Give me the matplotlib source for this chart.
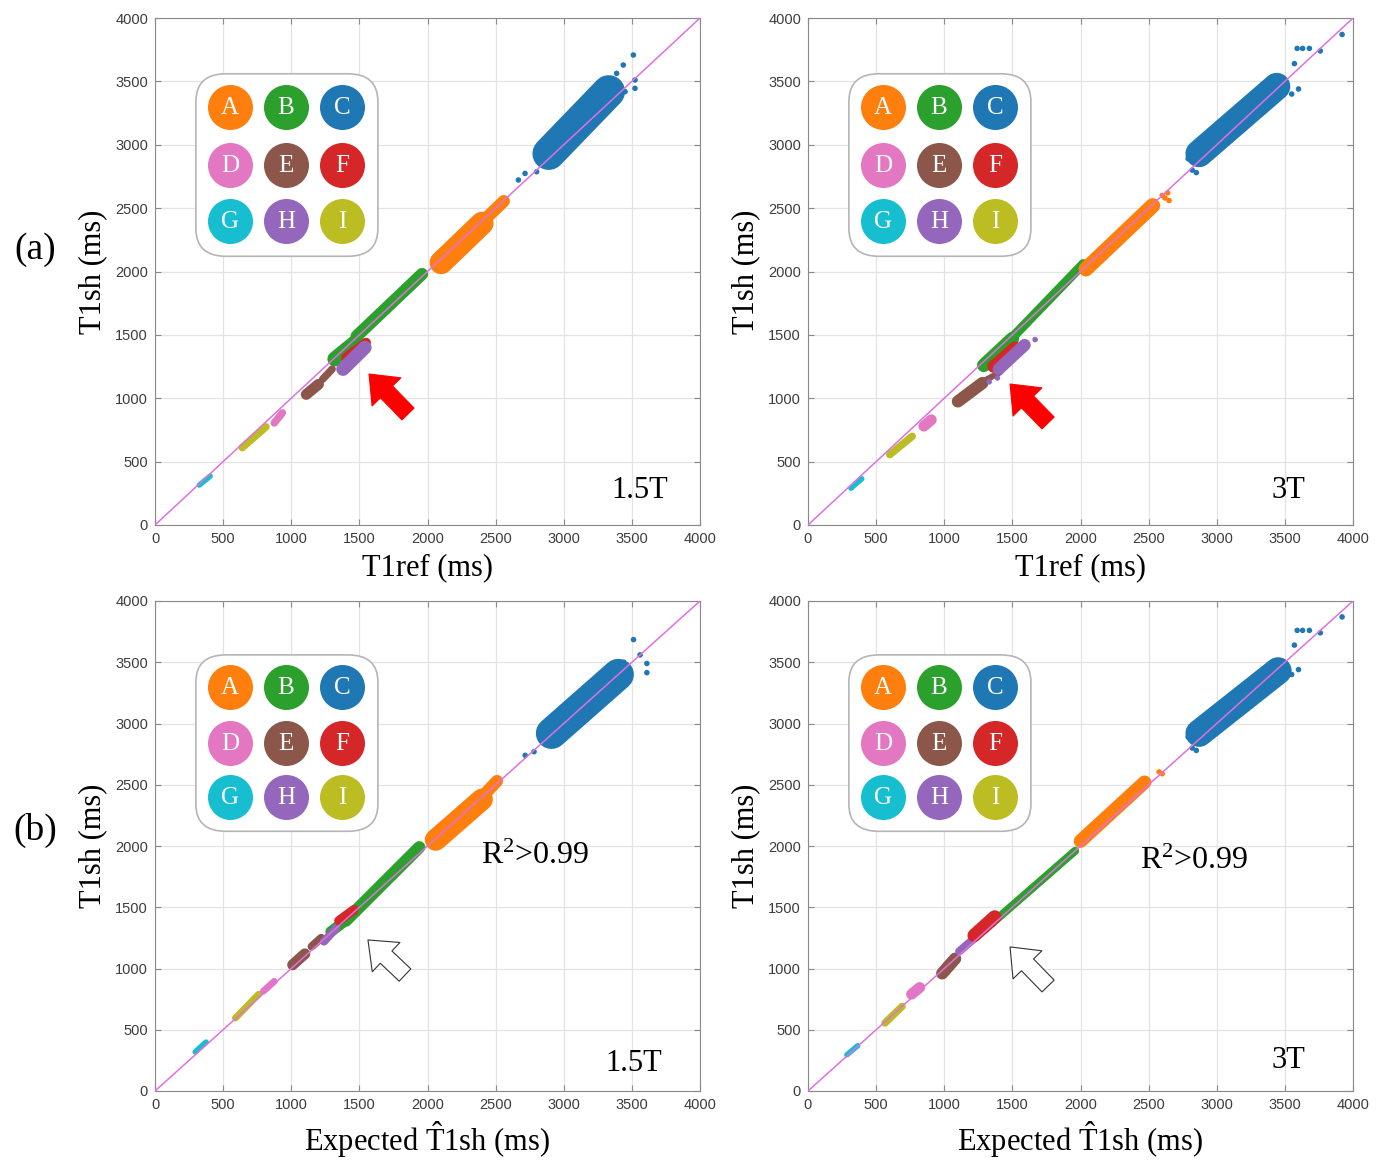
import matplotlib
matplotlib.use('Agg')
import matplotlib.pyplot as plt
from matplotlib.patches import FancyBboxPatch

plt.rcParams['font.family'] = 'Liberation Serif'
plt.rcParams['mathtext.fontset'] = 'custom'
plt.rcParams['mathtext.rm'] = 'Liberation Serif'
plt.rcParams['mathtext.it'] = 'Liberation Serif:italic'

## phantom vials ##
LETTERS = ['A', 'B', 'C', 'D', 'E', 'F', 'G', 'H', 'I']
COLORS = ['#ff7f0e', '#2ca02c', '#1f77b4', '#e377c2', '#8c564b',
          '#d62728', '#17becf', '#9467bd', '#bcbd22']
TICKS = [0, 500, 1000, 1500, 2000, 2500, 3000, 3500, 4000]
LIMS = [0, 4000]

## cluster spines: start -> end, spread across (ms) ##
# (a) 1.5T, T1ref vs T1sh
a15_cls = ['B', 'B', 'A', 'A', 'C', 'G', 'I', 'D', 'E', 'E', 'F', 'H']
a15_x0 = [1320, 1480, 2100, 2420, 2890, 325, 640, 875, 1110, 1230, 1400, 1380]
a15_y0 = [1310, 1490, 2070, 2410, 2930, 315, 610, 805, 1030, 1150, 1320, 1230]
a15_x1 = [1480, 1960, 2400, 2560, 3330, 405, 815, 935, 1200, 1300, 1550, 1540]
a15_y1 = [1450, 1980, 2380, 2555, 3420, 385, 775, 885, 1110, 1230, 1440, 1400]
a15_sp = [110, 90, 170, 90, 240, 40, 55, 55, 80, 55, 70, 100]
a15_out_cls = ['C'] * 11
a15_out_x = [2667, 2716, 2801, 3511, 3437, 3388, 3523, 3523, 3450, 3339, 3400]
a15_out_y = [2722, 2774, 2787, 3708, 3629, 3563, 3511, 3445, 3419, 3287, 3485]

# (a) 3T, T1ref vs T1sh
a3_cls = ['B', 'B', 'A', 'C', 'G', 'I', 'D', 'E', 'E', 'F', 'H']
a3_x0 = [1290, 1500, 2040, 2870, 315, 600, 850, 1100, 1280, 1360, 1400]
a3_y0 = [1260, 1480, 2020, 2930, 290, 555, 780, 975, 1130, 1250, 1230]
a3_x1 = [1500, 2020, 2530, 3440, 395, 765, 905, 1280, 1410, 1520, 1590]
a3_y1 = [1470, 2060, 2520, 3460, 365, 700, 830, 1120, 1205, 1400, 1420]
a3_sp = [100, 70, 110, 200, 40, 55, 80, 90, 45, 90, 90]
a3_out_cls = ['C'] * 11 + ['A'] * 4 + ['H'] * 3
a3_out_x = [2790, 2850, 2820, 3570, 3590, 3630, 3680, 3760, 3920, 3600, 3550,
            2620, 2640, 2650, 2600, 1667, 1330, 1390]
a3_out_y = [2890, 2780, 2800, 3640, 3760, 3760, 3760, 3740, 3870, 3440, 3400,
            2580, 2620, 2560, 2600, 1463, 1130, 1160]

# (b) 1.5T, expected T1sh vs T1sh
b15_cls = ['B', 'B', 'A', 'A', 'C', 'G', 'I', 'D', 'E', 'E', 'H', 'F']
b15_x0 = [1290, 1400, 2060, 2400, 2910, 295, 590, 795, 1010, 1150, 1240, 1350]
b15_y0 = [1300, 1390, 2050, 2400, 2920, 320, 595, 815, 1030, 1180, 1220, 1390]
b15_x1 = [1420, 1940, 2400, 2510, 3400, 375, 760, 875, 1100, 1220, 1330, 1460]
b15_y1 = [1410, 1990, 2380, 2530, 3400, 400, 790, 895, 1120, 1250, 1330, 1480]
b15_sp = [80, 90, 160, 90, 230, 40, 50, 50, 80, 60, 60, 70]
b15_out_cls = ['C'] * 9
b15_out_x = [2717, 2782, 3512, 3610, 3610, 3560, 3440, 3470, 3380]
b15_out_y = [2740, 2770, 3685, 3490, 3415, 3560, 3500, 3380, 3290]

# (b) 3T, expected T1sh vs T1sh
b3_cls = ['B', 'A', 'C', 'G', 'I', 'D', 'E', 'H', 'F']
b3_x0 = [1300, 2000, 2870, 285, 565, 760, 985, 1110, 1220]
b3_y0 = [1320, 2040, 2920, 295, 555, 790, 960, 1140, 1270]
b3_x1 = [1960, 2470, 3450, 365, 690, 820, 1080, 1220, 1370]
b3_y1 = [1960, 2520, 3430, 370, 690, 845, 1080, 1245, 1420]
b3_sp = [60, 100, 200, 40, 55, 80, 90, 60, 100]
b3_out_cls = ['C'] * 11 + ['A'] * 2
b3_out_x = [2790, 2850, 2820, 3570, 3590, 3630, 3680, 3760, 3920, 3600, 3550,
            2577, 2600]
b3_out_y = [2890, 2780, 2800, 3640, 3760, 3760, 3760, 3740, 3870, 3440, 3400,
            2605, 2590]

## arrows (tip, tail) in data units ##
arrow_tip = [(1571, 1191), (1483, 1112), (1563, 1233), (1483, 1176)]
arrow_tail = [(1857, 876), (1762, 805), (1835, 947), (1762, 857)]

W, H = 1387, 1161
fig = plt.figure(figsize=(W / 100, H / 100), dpi=100)
ax_w, ax_h = 545 / W, 507 / H
positions = [
    [155 / W, 1 - 525 / H, ax_w, ax_h],
    [808 / W, 1 - 525 / H, ax_w, ax_h],
    [155 / W, 1 - 1091 / H, ax_w, 490 / H],
    [808 / W, 1 - 1091 / H, ax_w, 490 / H],
]
panels = [
    (a15_cls, a15_x0, a15_y0, a15_x1, a15_y1, a15_sp, a15_out_cls, a15_out_x, a15_out_y),
    (a3_cls, a3_x0, a3_y0, a3_x1, a3_y1, a3_sp, a3_out_cls, a3_out_x, a3_out_y),
    (b15_cls, b15_x0, b15_y0, b15_x1, b15_y1, b15_sp, b15_out_cls, b15_out_x, b15_out_y),
    (b3_cls, b3_x0, b3_y0, b3_x1, b3_y1, b3_sp, b3_out_cls, b3_out_x, b3_out_y),
]
field_txt = ['1.5T', '3T', '1.5T', '3T']
field_pos = [(0.89, 0.069), (0.881, 0.069), (0.879, 0.057), (0.881, 0.063)]
r2_pos = [None, None, (0.698, 0.478), (0.708, 0.469)]
xlabels = ['T1ref (ms)', 'T1ref (ms)',
           r'Expected $\hat{\mathrm{T}}$1sh (ms)', r'Expected $\hat{\mathrm{T}}$1sh (ms)']
col = dict(zip(LETTERS, COLORS))
pt_per_ms = 545 / 4000 * 72 / 100

for i, (pos, p) in enumerate(zip(positions, panels)):
    cls, x0, y0, x1, y1, sp, ocls, ox, oy = p
    ax = fig.add_axes(pos)
    ax.set_xlim(LIMS)
    ax.set_ylim(LIMS)
    ax.set_xticks(TICKS)
    ax.set_yticks(TICKS)
    ax.grid(True, color='#e3e3e3', lw=0.9)
    ax.set_axisbelow(True)
    for s in ax.spines.values():
        s.set_color('#8a8a8a')
    ax.tick_params(direction='in', length=4, top=True, right=True, color='#8a8a8a',
                   labelsize=10.5, labelcolor='#3c3c3c', pad=5)
    for lab in ax.get_xticklabels() + ax.get_yticklabels():
        lab.set_family('Liberation Sans')

    # clusters
    for c, a, b, e, f, w in zip(cls, x0, y0, x1, y1, sp):
        ax.plot([a, e], [b, f], color=col[c], lw=w * pt_per_ms,
                solid_capstyle='round', zorder=2)
    ax.scatter(ox, oy, s=16, c=[col[c] for c in ocls], zorder=2, lw=0)
    ax.plot(LIMS, LIMS, color='#e070e0', lw=1.1, zorder=3)

    # legend box
    box = FancyBboxPatch((0.075, 0.53), 0.334, 0.36,
                         boxstyle='round,pad=0,rounding_size=0.055',
                         transform=ax.transAxes, fc='white', ec='#b5b5b5',
                         lw=1.2, zorder=4)
    ax.add_patch(box)
    gx = [0.138, 0.240, 0.343]
    gy = [0.825, 0.711, 0.600]
    for k, (letter, c) in enumerate(zip(LETTERS, COLORS)):
        cx, cy = gx[k % 3], gy[k // 3]
        ax.scatter([cx], [cy], s=1050, color=c, transform=ax.transAxes,
                   zorder=5, lw=0)
        ax.text(cx, cy - 0.003, letter, transform=ax.transAxes, ha='center',
                va='center', color='white', fontsize=18, zorder=6)

    # arrow
    filled = i < 2
    ax.annotate('', xy=arrow_tip[i], xytext=arrow_tail[i],
                arrowprops=dict(arrowstyle='simple,head_length=0.62,head_width=1.0,tail_width=0.42',
                                mutation_scale=29,
                                fc='#ff0000' if filled else 'white',
                                ec='#ff0000' if filled else '#333333',
                                lw=0.8, shrinkA=0, shrinkB=0), zorder=7)

    ax.text(field_pos[i][0], field_pos[i][1], field_txt[i], transform=ax.transAxes,
            ha='center', va='center', fontsize=22)
    if r2_pos[i] is not None:
        ax.text(r2_pos[i][0], r2_pos[i][1], r'R$^2$>0.99', transform=ax.transAxes,
                ha='center', va='center', fontsize=23)
    ax.set_xlabel(xlabels[i], fontsize=22, labelpad=5)
    ax.set_ylabel('T1sh (ms)', fontsize=22, labelpad=6)

fig.text(35 / W, 1 - 250 / H, '(a)', fontsize=27, ha='center', va='center')
fig.text(35 / W, 1 - 830 / H, '(b)', fontsize=27, ha='center', va='center')

plt.savefig('out.png', dpi=100)
